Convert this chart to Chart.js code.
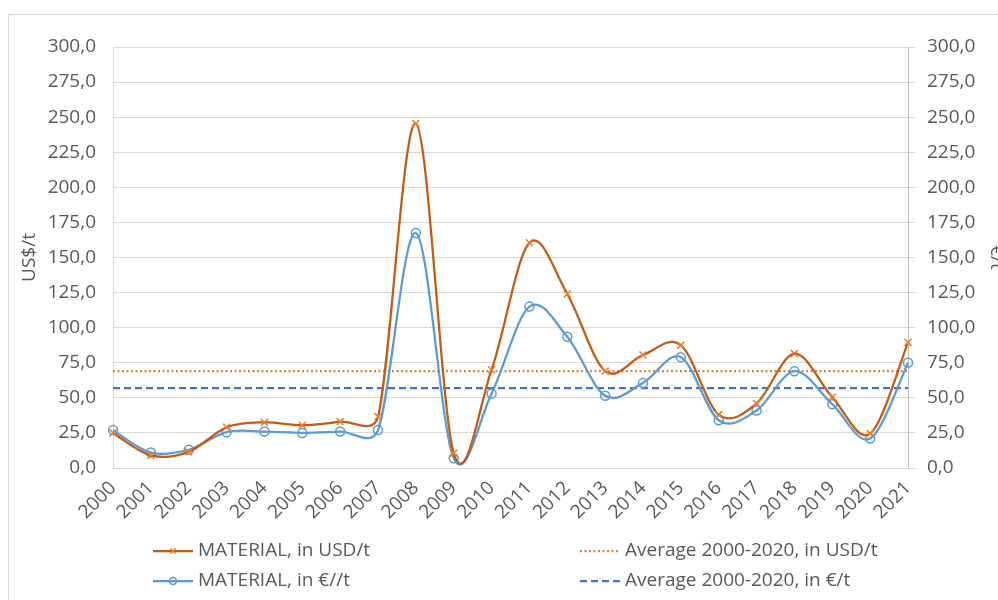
<!DOCTYPE html>
<html>
<head>
<meta charset="utf-8">
<script src="https://cdn.jsdelivr.net/npm/chart.js@4.4.1/dist/chart.umd.min.js"></script>
<style>
  html, body { margin: 0; padding: 0; background: #fff; }
</style>
</head>
<body>
<canvas id="myChart" width="998" height="600"></canvas>
<script>
const years = ['2000', '2001', '2002', '2003', '2004', '2005', '2006', '2007', '2008', '2009', '2010',
               '2011', '2012', '2013', '2014', '2015', '2016', '2017', '2018', '2019', '2020', '2021'];
const usdValues = [25, 9, 11.5, 29, 32.5, 30.5, 33, 36.5, 245.5, 10.5, 70, 160.5, 124, 69, 80.5, 87.5, 38, 46, 81.5, 50.5, 24.5, 89.5];
const eurValues = [27, 11, 13, 25.5, 26, 25, 26, 27, 167.5, 7, 53, 115, 93.5, 51.5, 60.5, 79, 34, 41, 69, 45.5, 21, 75];
const avgUsd = 69;
const avgEur = 57;

const textColor = '#595959';
const gridColor = '#d9d9d9';
const fonte = { family: 'Open Sans', size: 19 };

function formatarValor(v) {
  return v.toFixed(1).replace('.', ',');
}

// suavizacao tipo Excel (Catmull-Rom, braco limitado a metade do segmento)
const suavizarPlugin = {
  id: 'suavizar',
  beforeDatasetDraw(chart, args) {
    const ds = chart.data.datasets[args.index];
    if (!ds.excelSmooth) return;
    const line = args.meta.dataset;
    line.updateControlPoints(chart.chartArea, 'x');
    const pts = args.meta.data;
    const n = pts.length;
    const dist = (a, b) => Math.hypot(b.x - a.x, b.y - a.y);
    for (let i = 0; i < n; i++) {
      const p = pts[i];
      const p0 = pts[Math.max(i - 1, 0)];
      const p2 = pts[Math.min(i + 1, n - 1)];
      const tx = (p2.x - p0.x) / 6;
      const ty = (p2.y - p0.y) / 6;
      const len = Math.hypot(tx, ty) || 1;
      const k1 = Math.min(1, dist(p0, p) / 2 / len);
      const k2 = Math.min(1, dist(p, p2) / 2 / len);
      p.cp1x = p.x - tx * k1;
      p.cp1y = p.y - ty * k1;
      p.cp2x = p.x + tx * k2;
      p.cp2y = p.y + ty * k2;
    }
    line._path = undefined;
  }
};

// moldura e legenda desenhadas no canvas
const extrasPlugin = {
  id: 'extras',
  beforeDraw(chart) {
    const ctx = chart.ctx;
    ctx.save();
    ctx.strokeStyle = gridColor;
    ctx.lineWidth = 1;
    ctx.beginPath();
    ctx.moveTo(8.5, 600);
    ctx.lineTo(8.5, 14.5);
    ctx.lineTo(998, 14.5);
    ctx.stroke();
    ctx.restore();
  },
  afterDraw(chart) {
    const ctx = chart.ctx;
    const ds = chart.data.datasets;
    const itens = [
      { d: ds[0], x: 153, y: 551 },
      { d: ds[2], x: 580, y: 551 },
      { d: ds[1], x: 153, y: 581 },
      { d: ds[3], x: 580, y: 581 }
    ];
    ctx.save();
    itens.forEach(it => {
      const d = it.d;
      ctx.strokeStyle = d.borderColor;
      ctx.lineWidth = d.borderWidth;
      ctx.setLineDash(d.borderDash || []);
      ctx.beginPath();
      ctx.moveTo(it.x, it.y);
      ctx.lineTo(it.x + 40, it.y);
      ctx.stroke();
      ctx.setLineDash([]);
      if (d.pointRadius > 0) {
        ctx.strokeStyle = d.pointBorderColor;
        ctx.fillStyle = d.pointBackgroundColor;
        ctx.lineWidth = d.pointBorderWidth;
        Chart.helpers.drawPoint(ctx, {
          pointStyle: d.pointStyle,
          radius: d.pointRadius - 1,
          borderWidth: d.pointBorderWidth
        }, it.x + 20, it.y);
      }
      ctx.fillStyle = textColor;
      ctx.font = '19px "Open Sans"';
      ctx.textBaseline = 'middle';
      ctx.textAlign = 'left';
      ctx.fillText(d.label, it.x + 45, it.y);
    });
    ctx.restore();
  }
};

const ctx = document.getElementById('myChart').getContext('2d');
new Chart(ctx, {
  type: 'line',
  data: {
    labels: years,
    datasets: [
      {
        label: 'MATERIAL, in USD/t',
        data: usdValues,
        excelSmooth: true,
        borderColor: '#C55A11',
        borderWidth: 2.25,
        tension: 0.4,
        pointStyle: 'crossRot',
        pointRadius: 5,
        pointBorderColor: '#ED7D31',
        pointBorderWidth: 1.5,
        pointBackgroundColor: '#ED7D31',
        yAxisID: 'y'
      },
      {
        label: 'MATERIAL, in €//t',
        data: eurValues,
        excelSmooth: true,
        borderColor: '#5B9BD5',
        borderWidth: 2.25,
        tension: 0.4,
        pointStyle: 'circle',
        pointRadius: 4.5,
        pointBorderColor: '#5B9BD5',
        pointBorderWidth: 1.5,
        pointBackgroundColor: 'rgba(255,255,255,0)',
        yAxisID: 'y2'
      },
      {
        label: 'Average 2000-2020, in USD/t',
        data: [{ x: '2000', y: avgUsd }, { x: '2021', y: avgUsd }],
        borderColor: '#ED7D31',
        borderWidth: 2.25,
        borderDash: [2, 2.5],
        pointRadius: 0,
        yAxisID: 'y'
      },
      {
        label: 'Average 2000-2020, in €/t',
        data: [{ x: '2000', y: avgEur }, { x: '2021', y: avgEur }],
        borderColor: '#4472C4',
        borderWidth: 2.25,
        borderDash: [7, 4],
        pointRadius: 0,
        yAxisID: 'y2'
      }
    ]
  },
  options: {
    responsive: false,
    animation: false,
    layout: { padding: { top: 47, left: 0, right: 0, bottom: 0 } },
    plugins: {
      legend: { display: false },
      tooltip: { enabled: false }
    },
    scales: {
      x: {
        offset: false,
        grid: { display: false, drawTicks: false },
        border: { color: gridColor },
        ticks: {
          color: textColor,
          font: fonte,
          minRotation: 45,
          maxRotation: 45,
          autoSkip: false,
          padding: 9
        },
        afterFit: s => { s.height = 132; }
      },
      y: {
        position: 'left',
        min: 0,
        max: 300,
        grid: { color: gridColor, drawTicks: false },
        border: { color: gridColor },
        ticks: {
          stepSize: 25,
          color: textColor,
          font: fonte,
          padding: 17,
          callback: v => formatarValor(v)
        },
        title: {
          display: true,
          text: 'US$/t',
          color: textColor,
          font: fonte,
          padding: { top: 18, bottom: 0 }
        },
        afterFit: s => { s.width = 113; }
      },
      y2: {
        position: 'right',
        min: 0,
        max: 300,
        grid: { drawOnChartArea: false, color: gridColor, tickLength: 7 },
        border: { color: '#bfbfbf' },
        ticks: {
          stepSize: 25,
          color: textColor,
          font: fonte,
          padding: 12,
          callback: v => formatarValor(v)
        },
        title: {
          display: true,
          text: '€/t',
          color: textColor,
          font: fonte,
          padding: { top: -10, bottom: 0 }
        },
        afterFit: s => { s.width = 90; }
      }
    }
  },
  plugins: [suavizarPlugin, extrasPlugin]
});
</script>
</body>
</html>
